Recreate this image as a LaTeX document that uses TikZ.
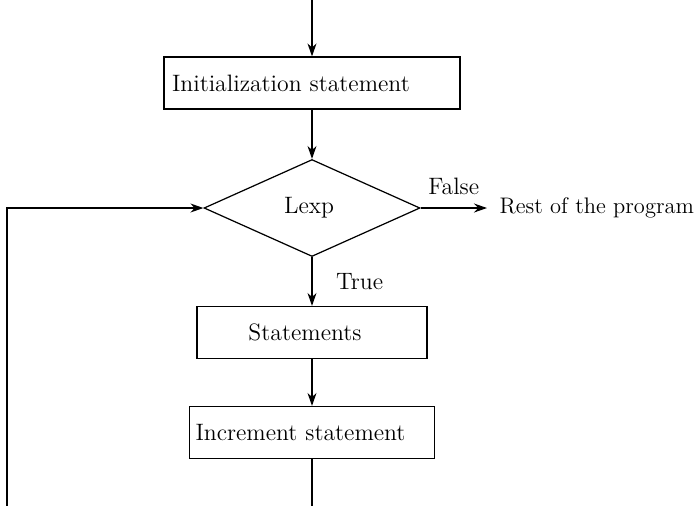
\documentclass[tikz,border=0pt]{standalone}
\usepackage{tikz}
\usetikzlibrary{arrows.meta, positioning, calc, shapes.geometric}

\begin{document}
\begin{tikzpicture}[
    x=0.02cm, y=-0.02cm,
    line width=0.7pt,
    every node/.style={font=\fontsize{13.5}{16}\selectfont},
    blockbox/.style={draw, rectangle, inner ysep=0pt, minimum height=1.04cm},
    flowarrow/.style={-{Stealth[length=2.6mm, width=1.8mm]}}
  ]
  \clip (0,0) rectangle (699,505);

  % Blocs
  \node[blockbox, inner xsep=0.16cm, text width=5.6cm, align=left] (init) at (312,83) {Initialization statement};
  \node[draw, diamond, inner sep=0pt, minimum width=4.32cm, minimum height=1.94cm] (lexp) at (312,208) {};
  \node at (309,208) {Lexp};
  \node[blockbox, minimum width=4.6cm] (stmts) at (312,332.5) {};
  \node at (305,332.5) {Statements};
  \node[blockbox, inner xsep=0.12cm, text width=4.66cm, align=left] (incr) at (312,432.5) {Increment statement};
  \node[anchor=west, inner sep=0pt, font=\fontsize{12.8}{15}\selectfont] (rest) at (499,208) {Rest of the program};

  \coordinate (entry) at (312,0);
  \coordinate (bottom) at (312,520);
  \coordinate (corner) at (7,520);
  \coordinate (back) at (7,208);

  % Fleches
  \draw[flowarrow] (entry) -- (init.north);
  \draw[flowarrow] (init.south) -- (lexp.north);
  \draw[flowarrow] (lexp.east) -- ($(rest.west)+(-12,0)$) node[midway, above=4pt] {False};
  \draw[flowarrow] (lexp.south) -- (stmts.north) node[midway, right=10pt] {True};
  \draw[flowarrow] (stmts.south) -- (incr.north);

  % Retour de boucle
  \draw[flowarrow] (incr.south) -- (bottom) -- (corner) -- (back) -- (lexp.west);
\end{tikzpicture}
\end{document}
